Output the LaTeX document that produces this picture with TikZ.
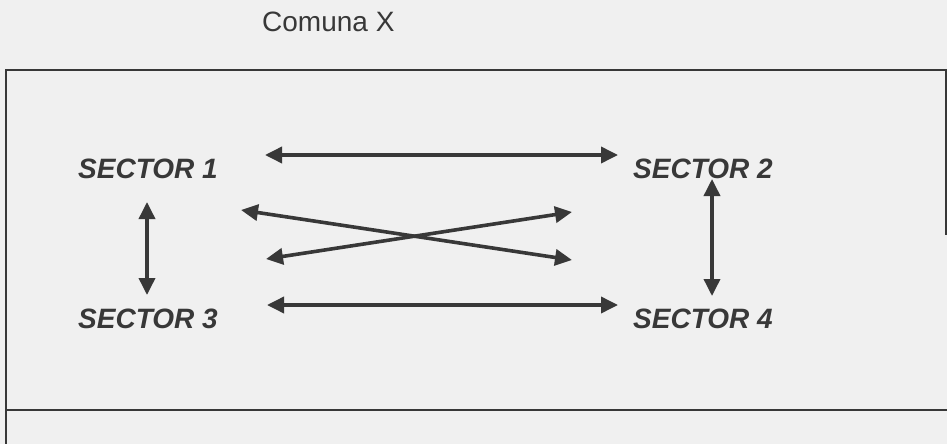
\documentclass[tikz,border=0pt]{standalone}
\usepackage{fontspec}
\setmainfont{Liberation Sans}
\usetikzlibrary{arrows.meta}
\definecolor{paper}{HTML}{F0F0F0}
\definecolor{ink}{HTML}{383838}
\begin{document}
\begin{tikzpicture}[x=1pt,y=-1pt,
  sectorlabel/.style={anchor=base west,inner sep=0pt,text=ink,
    font=\fontsize{28}{30}\selectfont\bfseries\itshape},
  titlelabel/.style={anchor=base west,inner sep=0pt,text=ink,
    font=\fontsize{28}{30}\selectfont},
  frame/.style={draw=ink,line width=2.2pt},
  link/.style={draw=ink,line width=3.6pt,
    {Triangle[length=17pt,width=16pt]}-{Triangle[length=17pt,width=16pt]}}]
  % page
  \fill[paper] (0,0) rectangle (947,444);
  \useasboundingbox (0,0) rectangle (947,444);

  % frame of the commune
  \draw[frame] (6,444) -- (6,70) -- (947,70);
  \draw[frame] (946,70) -- (946,235);
  \draw[frame] (6,410) -- (947,410);

  % labels
  \node[titlelabel] (title) at (262,32) {Comuna X};
  \node[sectorlabel] (s1) at (78,178) {SECTOR 1};
  \node[sectorlabel] (s2) at (633,178) {SECTOR 2};
  \node[sectorlabel] (s3) at (78,328) {SECTOR 3};
  \node[sectorlabel] (s4) at (633,328) {SECTOR 4};

  % arrow end points
  \coordinate (a12) at (265,155);  \coordinate (b12) at (618,155);
  \coordinate (a34) at (267,305);  \coordinate (b34) at (618,305);
  \coordinate (a13) at (147,202);  \coordinate (b13) at (147,295);
  \coordinate (a24) at (712,179);  \coordinate (b24) at (712,296);
  \coordinate (a14) at (241,210);  \coordinate (b14) at (572,260);
  \coordinate (a32) at (266,259);  \coordinate (b32) at (572,212);

  % connections between sectors
  \draw[link] (a12) -- (b12);
  \draw[link] (a34) -- (b34);
  \draw[link] (a13) -- (b13);
  \draw[link] (a24) -- (b24);
  \draw[link] (a14) -- (b14);
  \draw[link] (a32) -- (b32);
\end{tikzpicture}
\end{document}
